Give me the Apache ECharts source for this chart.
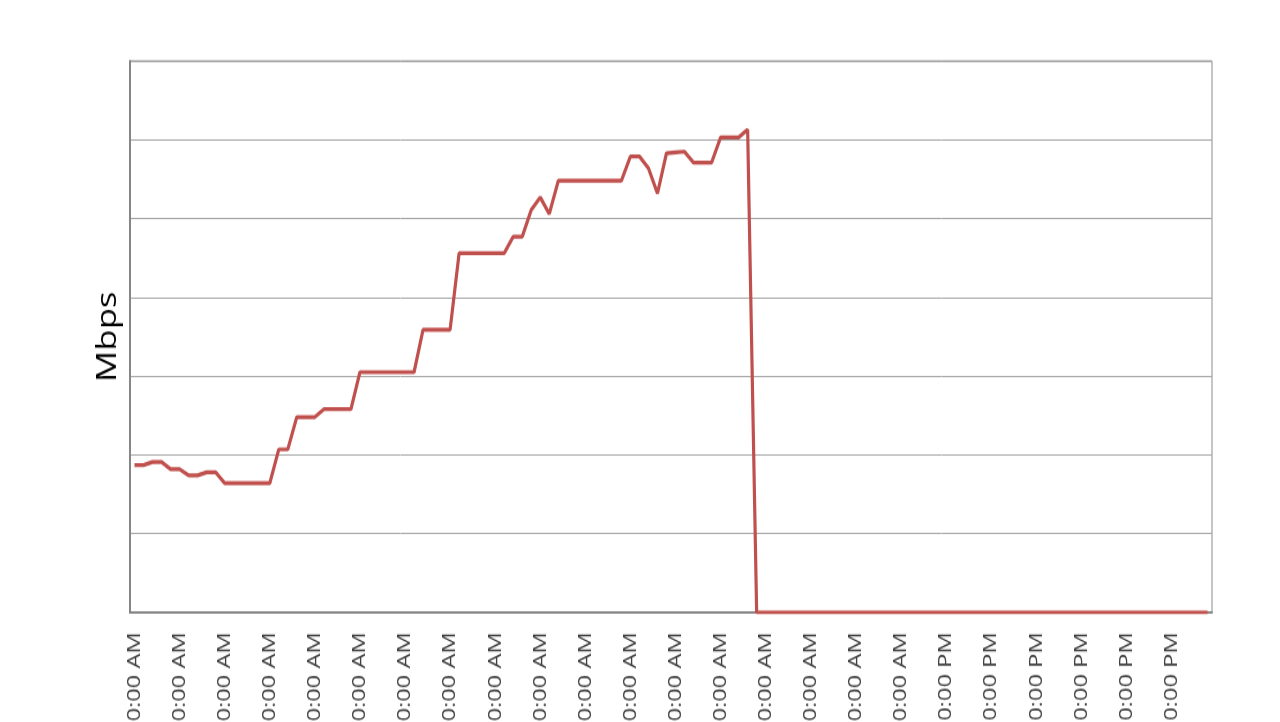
<!DOCTYPE html>
<html>
<head>
<meta charset="utf-8">
<script src="https://cdn.jsdelivr.net/npm/echarts@6/dist/echarts.min.js"></script>
<style>
  html { overflow: hidden; }
  html, body { margin: 0; padding: 0; background: #fff; width: 1280px; height: 722px; }
  /* the reference picture is stretched vertically, so draw at 580 px and stretch to 722 */
  #chart { width: 1280px; height: 580px; transform: scaleY(1.2448); transform-origin: 0 0; }
</style>
</head>
<body>
<div id="chart"></div>
<script>
// axis labels, one every 5 samples (30 min)
var tickLabels = [
  "3:00:00 AM", "3:30:00 AM", "4:00:00 AM", "4:30:00 AM", "5:00:00 AM", "5:30:00 AM",
  "6:00:00 AM", "6:30:00 AM", "7:00:00 AM", "7:30:00 AM", "8:00:00 AM", "8:30:00 AM",
  "9:00:00 AM", "9:30:00 AM", "10:00:00 AM", "10:30:00 AM", "11:00:00 AM", "11:30:00 AM",
  "12:00:00 PM", "12:30:00 PM", "1:00:00 PM", "1:30:00 PM", "2:00:00 PM", "2:30:00 PM"
];

// throughput, Mbps, one sample every 6 minutes
var mbps = [
  18.7, 18.7, 19.1, 19.1, 18.2, 18.2, 17.4, 17.4, 17.8, 17.8,
  16.4, 16.4, 16.4, 16.4, 16.4, 16.4, 20.7, 20.7, 24.8, 24.8,
  24.8, 25.8, 25.8, 25.8, 25.8, 30.5, 30.5, 30.5, 30.5, 30.5,
  30.5, 30.5, 35.9, 35.9, 35.9, 35.9, 45.6, 45.6, 45.6, 45.6,
  45.6, 45.6, 47.7, 47.7, 51.1, 52.7, 50.6, 54.8, 54.8, 54.8,
  54.8, 54.8, 54.8, 54.8, 54.8, 57.9, 57.9, 56.4, 53.2, 58.3,
  58.4, 58.5, 57.1, 57.1, 57.1, 60.3, 60.3, 60.3, 61.3, 0,
  0, 0, 0, 0, 0, 0, 0, 0, 0, 0,
  0, 0, 0, 0, 0, 0, 0, 0, 0, 0,
  0, 0, 0, 0, 0, 0, 0, 0, 0, 0,
  0, 0, 0, 0, 0, 0, 0, 0, 0, 0,
  0, 0, 0, 0, 0, 0, 0, 0, 0, 0
];

// sample times for the category axis (6 min apart)
var times = mbps.map(function (v, i) {
  var m = 180 + i * 6;
  var h = Math.floor(m / 60) % 24;
  var mm = m % 60;
  var h12 = h % 12 === 0 ? 12 : h % 12;
  return h12 + ":" + (mm < 10 ? "0" : "") + mm + ":00 " + (h < 12 ? "AM" : "PM");
});

(function () {
  var myechart = echarts.init(document.getElementById("chart"));
  var font = "Open Sans";
  var option = {
    animation: false,
    grid: {
      left: 130,
      right: 68,
      top: 49,
      bottom: 88,
      outerBoundsMode: "none",
      show: true,
      borderColor: "#8c8c8c",
      borderWidth: 1,
    },
    xAxis: {
      type: "category",
      boundaryGap: true,
      data: times,
      axisTick: { show: false },
      axisLine: {
        lineStyle: { color: "#868686", width: 2 },
      },
      axisLabel: {
        rotate: 90,
        interval: 4,
        margin: 16,
        padding: [8, 0, 0, 0],
        fontSize: 19,
        fontFamily: font,
        color: "#404040",
        formatter: function (val, idx) {
          return tickLabels[Math.floor(idx / 5)];
        },
      },
    },
    yAxis: {
      type: "value",
      min: 0,
      max: 70,
      interval: 10,
      name: "Mbps",
      nameLocation: "middle",
      nameGap: 8,
      nameTextStyle: {
        color: "#000",
        fontSize: 28,
        fontFamily: font,
      },
      axisLabel: { show: false },
      axisTick: { show: false },
      axisLine: {
        show: true,
        lineStyle: { color: "#868686", width: 2 },
      },
      splitLine: {
        lineStyle: { color: "#a6a6a6", width: 1 },
      },
    },
    series: [
      {
        type: "line",
        data: mbps,
        symbol: "none",
        lineStyle: { color: "#c0504d", width: 3.2 },
        itemStyle: { color: "#c0504d" },
      },
    ],
  };
  myechart.setOption(option);
})();
</script>
</body>
</html>
